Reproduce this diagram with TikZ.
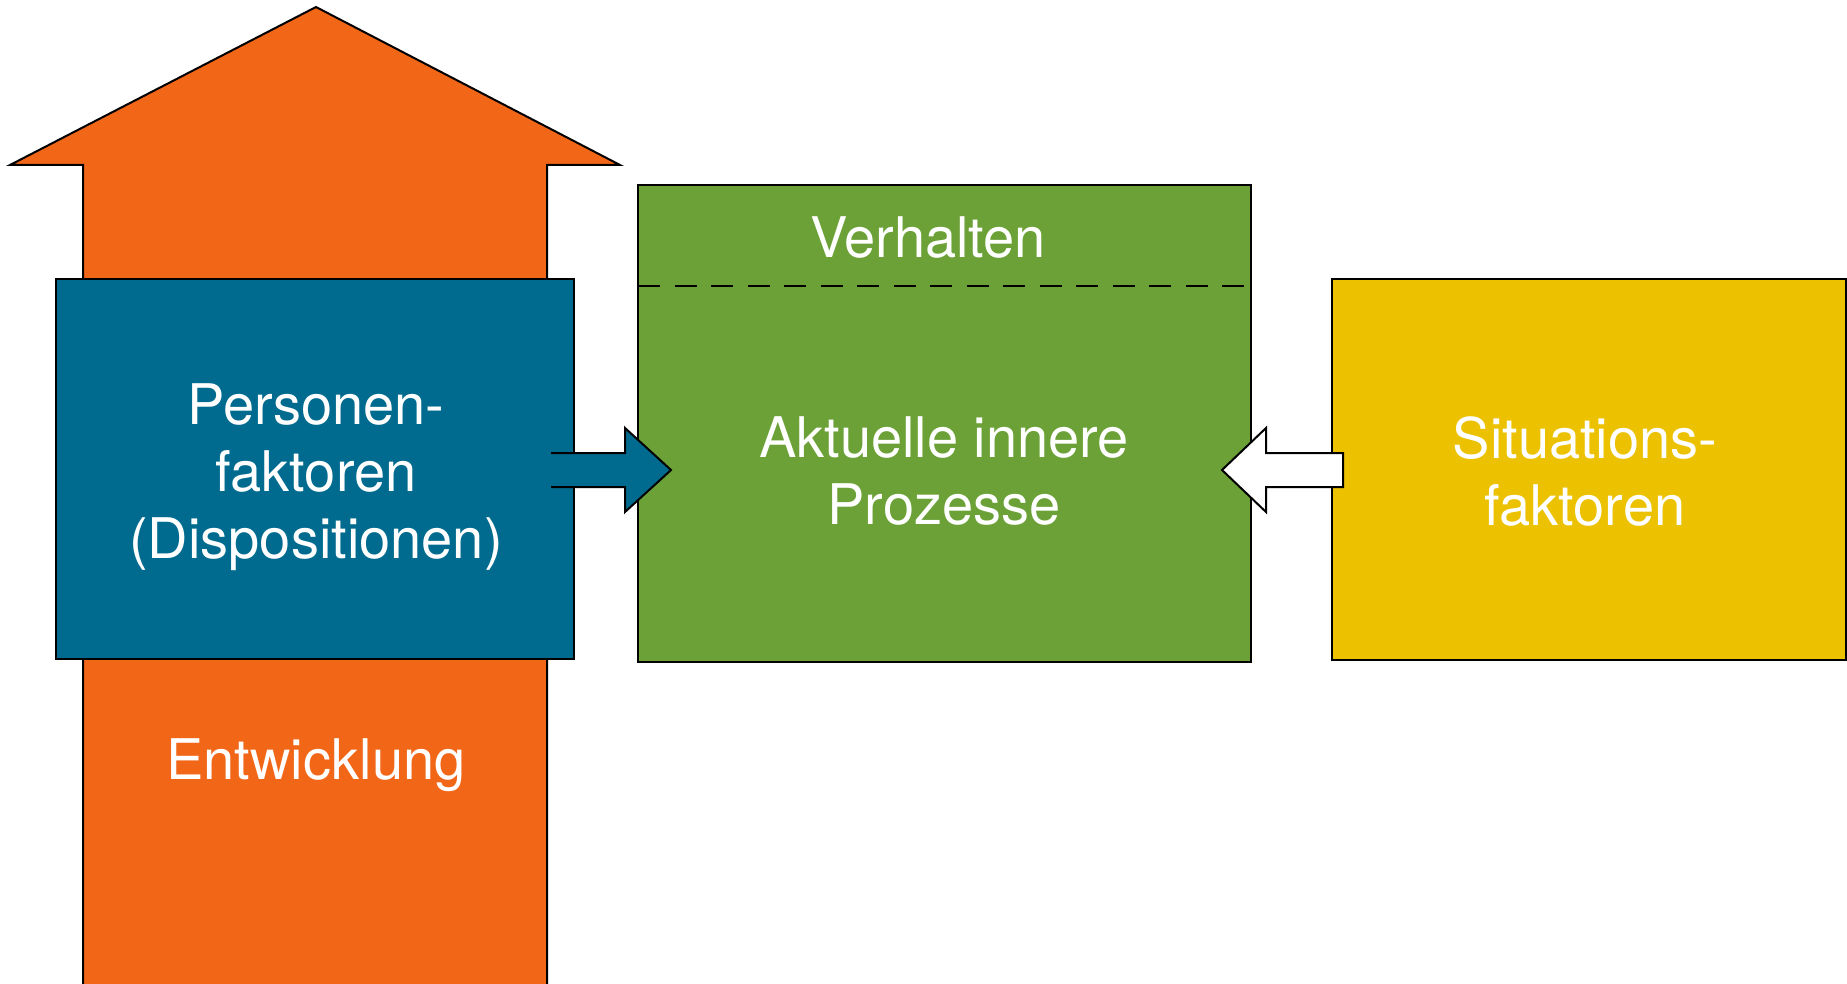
\documentclass[tikz,border=0pt]{standalone}
\usepackage{fontspec}
\setmainfont{TeX Gyre Heros}
\definecolor{orangeA}{RGB}{242,102,24}
\definecolor{blueA}{RGB}{0,107,143}
\definecolor{greenA}{RGB}{107,161,55}
\definecolor{yellowA}{RGB}{236,193,0}
\begin{document}
\begin{tikzpicture}[x=1pt,y=-1pt,line width=2pt,line join=miter,
  box/.style={draw=black,rectangle,inner sep=0pt,outer sep=0pt},
  lbl/.style={text=white,inner sep=0pt,outer sep=0pt,align=center,font=\fontsize{56}{67}\selectfont}]
\useasboundingbox (0,0) rectangle (1847,984);
\clip (0,0) rectangle (1847,984);
% development arrow
\filldraw[fill=orangeA] (83,1010) -- (83,165) -- (10,165) -- (316,7) -- (620,165) -- (547,165) -- (547,1010) -- cycle;
% boxes
\node[box,fill=blueA,minimum width=518pt,minimum height=380pt] (pers) at (315,469) {};
\node[box,fill=greenA,minimum width=613pt,minimum height=477pt] (proc) at (944.5,423.5) {};
\node[box,fill=yellowA,minimum width=514pt,minimum height=381pt] (sit) at (1589,469.5) {};
\draw[dash pattern=on 22pt off 14.5pt,line width=2pt] (proc.west |- 0,286) -- (1244,286);
% arrows
\fill[blueA] (551,453) -- (625,453) -- (625,428) -- (671,470) -- (625,512) -- (625,487) -- (551,487) -- cycle;
\draw (551,453) -- (625,453) -- (625,428) -- (671,470) -- (625,512) -- (625,487) -- (551,487);
\filldraw[fill=white] (1222,470) -- (1266,428) -- (1266,453) -- (1343,453) -- (1343,487) -- (1266,487) -- (1266,512) -- cycle;
% labels
\node[lbl,anchor=north] (tpers) at (316,384) {Personen-\\faktoren\\(Dispositionen)};
\node[lbl,anchor=base] (tverh) at (928,258) {Verhalten};
\node[lbl,anchor=north] (tproc) at (944,417) {Aktuelle innere\\Prozesse};
\node[lbl,anchor=north] (tsit) at (1585,417) {Situations-\\faktoren};
\node[lbl,anchor=base] (tentw) at (316,779) {Entwicklung};
\end{tikzpicture}
\end{document}
